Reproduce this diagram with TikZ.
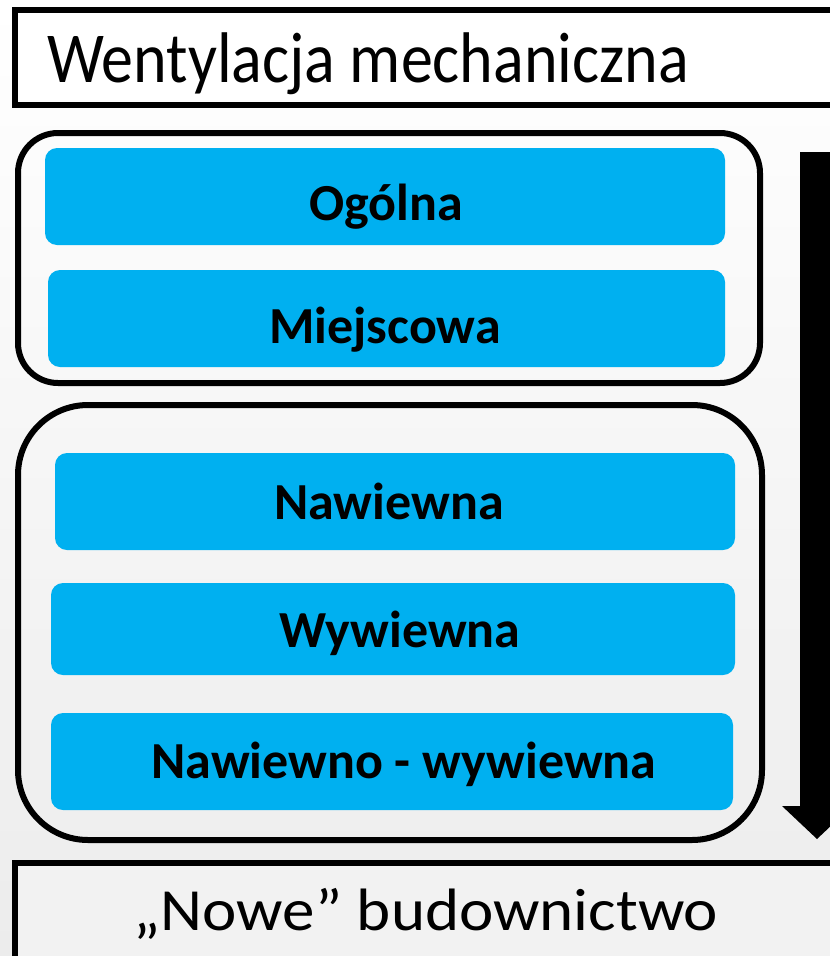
\documentclass[tikz,border=0pt]{standalone}
\usepackage{fontspec}
\setmainfont{Carlito}
\definecolor{cyanbox}{HTML}{00B0F0}
\definecolor{bggray}{HTML}{ECECEC}
\definecolor{boxgray}{HTML}{F2F2F2}
\begin{document}
\begin{tikzpicture}[x=1pt,y=-1pt,
  titlebox/.style={draw=black,line width=6pt,inner sep=0pt},
  groupbox/.style={draw=black,line width=6pt},
  itembox/.style={fill=cyanbox,rounded corners=12pt,inner sep=0pt},
  itemtext/.style={anchor=base,inner sep=0pt,font=\fontsize{52}{56}\selectfont\bfseries},
  bigtext/.style={anchor=base,inner sep=0pt,font=\fontsize{64}{68}\selectfont}]
\useasboundingbox (0,0) rectangle (830,956);
\shade[top color=white,bottom color=bggray] (0,0) rectangle (830,956);
% top box
\draw[titlebox,fill=white] (15,10) rectangle (840,105);
\node[bigtext,anchor=base west] (title) at (47,82) {\scalebox{1}[1.12]{Wentylacja mechaniczna}};
% group boxes
\draw[groupbox,rounded corners=40pt] (18,133) rectangle (760,383);
\draw[groupbox,rounded corners=70pt] (18,405) rectangle (762,840);
% items
\node[itembox,minimum width=680pt,minimum height=97pt] (ogolna) at (385,196.5) {};
\node[itembox,minimum width=677pt,minimum height=97pt] (miej) at (386.5,318.5) {};
\node[itembox,minimum width=680pt,minimum height=97pt] (naw) at (395,501.5) {};
\node[itembox,minimum width=684pt,minimum height=92pt] (wyw) at (393,629) {};
\node[itembox,minimum width=682pt,minimum height=97pt] (nw) at (392,761.5) {};
\node[itemtext] (t1) at (386,220) {Ogólna};
\node[itemtext] (t2) at (385,343) {Miejscowa};
\node[itemtext] (t3) at (389,519) {Nawiewna};
\node[itemtext] (t4) at (400,647) {Wywiewna};
\node[itemtext] (t5) at (404,778) {Nawiewno - wywiewna};
% arrow
\fill[black] (800,152) -- (834,152) -- (834,806) -- (852,806) -- (817,839) -- (782,806) -- (800,806) -- cycle;
% bottom box
\draw[titlebox,fill=boxgray] (15,863) rectangle (840,970);
\node[bigtext,font=\fontsize{65}{68}\selectfont] (nowe) at (426,930) {\scalebox{1}[0.92]{„Nowe” budownictwo}};
\end{tikzpicture}
\end{document}
